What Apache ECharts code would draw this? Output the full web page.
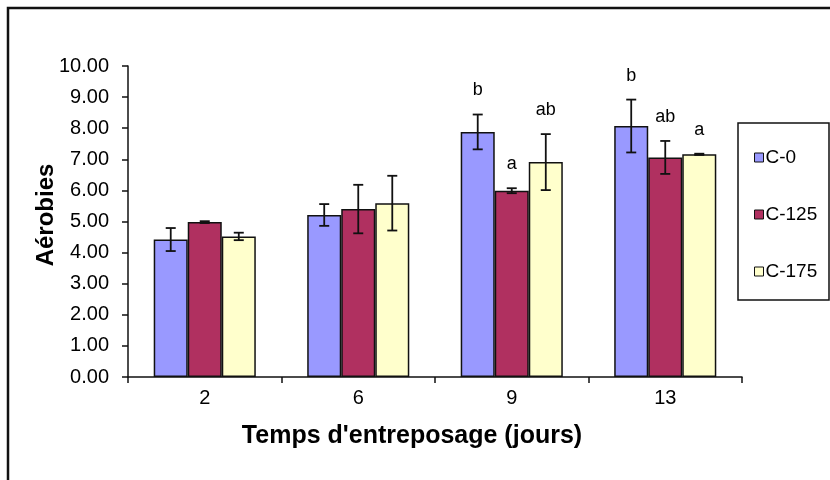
<!DOCTYPE html>
<html>
<head>
<meta charset="utf-8">
<script src="https://cdn.jsdelivr.net/npm/echarts@6/dist/echarts.min.js"></script>
<style>
  html, body { margin: 0; padding: 0; background: #fff; }
  #chart { width: 830px; height: 480px; }
</style>
</head>
<body>
<div id="chart"></div>
<script>
// Storage days
const categories = ['2', '6', '9', '13'];

// Mean aerobic counts and their standard deviations per treatment
const c0 = [4.42, 5.21, 7.88, 8.07];
const c0Err = [0.37, 0.35, 0.56, 0.85];
const c125 = [4.98, 5.40, 5.99, 7.06];
const c125Err = [0.03, 0.78, 0.08, 0.53];
const c175 = [4.52, 5.59, 6.91, 7.16];
const c175Err = [0.12, 0.88, 0.90, 0.02];

// Significance letters drawn above the error bars
const c0Letters = ['', '', 'b', 'b'];
const c125Letters = ['', '', 'a', 'ab'];
const c175Letters = ['', '', 'ab', 'a'];

const seriesNames = ['C-0', 'C-125', 'C-175'];
const yTicks = { min: 0, max: 10, interval: 1 };

const FONT = '"Liberation Sans", Arial, sans-serif';
const GAP = 0.335;

const means = [c0, c125, c175];
const errs = [c0Err, c125Err, c175Err];
const letters = [c0Letters, c125Letters, c175Letters];
const colors = ['#9999FF', '#B03060', '#FFFFCC'];

const errData = [];
for (let s = 0; s < 3; s++) {
  for (let i = 0; i < categories.length; i++) {
    errData.push([i, means[s][i], errs[s][i], s, letters[s][i]]);
  }
}

const chart = echarts.init(document.getElementById('chart'), null, { renderer: 'canvas' });

const barSeries = seriesNames.map((name, s) => ({
  name: name,
  type: 'bar',
  data: means[s],
  barGap: '0%',
  barCategoryGap: (GAP * 100) + '%',
  itemStyle: { color: colors[s], borderColor: '#111', borderWidth: 1.5 },
  z: 2
}));

const errorSeries = {
  type: 'custom',
  name: 'errors',
  data: errData,
  encode: { x: 0, y: 1 },
  z: 5,
  silent: true,
  renderItem: function (params, api) {
    const cat = api.value(0);
    const mean = api.value(1);
    const err = api.value(2);
    const s = api.value(3);
    const letter = errData[params.dataIndex][4];
    const band = api.size([1, 0])[0];
    const bw = band * (1 - GAP) / 3;
    const cx = api.coord([cat, 0])[0] + (s - 1) * bw;
    const top = api.coord([cat, mean + err])[1];
    const bot = api.coord([cat, mean - err])[1];
    const cap = 5;
    const lineStyle = { stroke: '#111', lineWidth: 1.8 };
    const children = [
      { type: 'line', shape: { x1: cx, y1: top, x2: cx, y2: bot }, style: lineStyle },
      { type: 'line', shape: { x1: cx - cap, y1: top, x2: cx + cap, y2: top }, style: lineStyle },
      { type: 'line', shape: { x1: cx - cap, y1: bot, x2: cx + cap, y2: bot }, style: lineStyle }
    ];
    if (letter) {
      children.push({
        type: 'text',
        style: {
          text: letter, x: cx, y: top - 24,
          align: 'center', verticalAlign: 'middle',
          textAlign: 'center', textVerticalAlign: 'middle',
          font: '18px ' + FONT, fill: '#000'
        }
      });
    }
    return { type: 'group', children: children };
  }
};

chart.setOption({
  animation: false,
  backgroundColor: '#fff',
  grid: { left: 128, right: 88, top: 66, bottom: 103, containLabel: false },
  xAxis: {
    type: 'category',
    data: categories,
    boundaryGap: true,
    axisLine: { lineStyle: { color: '#111', width: 1.5 } },
    axisTick: { show: true, inside: false, length: 6, lineStyle: { color: '#111', width: 1.5 } },
    axisLabel: { color: '#000', fontSize: 20, fontFamily: FONT, margin: 11 },
    splitLine: { show: false }
  },
  yAxis: {
    type: 'value',
    min: yTicks.min,
    max: yTicks.max,
    interval: yTicks.interval,
    axisLine: { show: true, lineStyle: { color: '#111', width: 1.5 } },
    axisTick: { show: true, inside: false, length: 6, lineStyle: { color: '#111', width: 1.5 } },
    axisLabel: {
      color: '#000', fontSize: 20, fontFamily: FONT, margin: 19,
      formatter: v => v.toFixed(2)
    },
    splitLine: { show: false }
  },
  legend: {
    data: seriesNames,
    orient: 'vertical',
    left: 749,
    top: 143,
    itemWidth: 9,
    itemHeight: 9,
    itemGap: 38,
    icon: 'rect',
    itemStyle: { borderColor: '#111', borderWidth: 1 },
    textStyle: { color: '#000', fontSize: 19, fontFamily: FONT, padding: [0, 0, 0, -3] },
    z: 10
  },
  graphic: [
    {
      type: 'polyline', z: 0,
      shape: { points: [[8, 480], [8, 8], [830, 8]] },
      style: { stroke: '#111', lineWidth: 2.5, fill: null }
    },
    {
      type: 'rect', z: 0,
      shape: { x: 738, y: 123, width: 91, height: 177 },
      style: { stroke: '#111', lineWidth: 1.5, fill: '#fff' }
    },
    {
      type: 'text', z: 1,
      x: 46, y: 215, rotation: Math.PI / 2,
      style: {
        text: 'Aérobies', align: 'center', verticalAlign: 'middle',
        textAlign: 'center', textVerticalAlign: 'middle',
        font: 'bold 24px ' + FONT, fill: '#000'
      }
    },
    {
      type: 'text', z: 1,
      x: 412, y: 436,
      style: {
        text: "Temps d'entreposage (jours)", align: 'center', verticalAlign: 'middle',
        textAlign: 'center', textVerticalAlign: 'middle',
        font: 'bold 25px ' + FONT, fill: '#000'
      }
    }
  ],
  series: barSeries.concat([errorSeries])
});
</script>
</body>
</html>
